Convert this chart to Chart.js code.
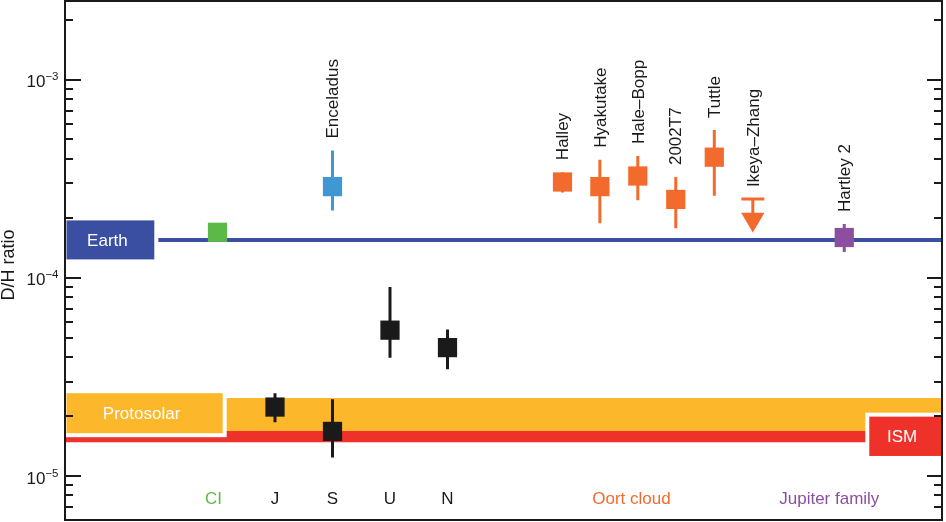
<!DOCTYPE html>
<html><head><meta charset="utf-8">
<script src="https://cdn.jsdelivr.net/npm/chart.js@4/dist/chart.umd.min.js"></script>
<style>html,body{margin:0;padding:0;background:#fff;}canvas{display:block;}</style>
</head><body>
<canvas id="c" width="946" height="522"></canvas>
<script>
// ---------------- data ----------------
const xRange = [-1.652, 13.6];
const yRange = [6.0e-6, 2.5e-3];
const yMajorExponents = [-5, -4, -3];
const yTitle = 'D/H ratio';

const earthDH = 1.556e-4;
const protosolarRange = [1.69e-5, 2.48e-5];
const ismRange = [1.48e-5, 1.69e-5];

const ciX = [1];
const ciDH = [1.70e-4];

const planetNames = ['J', 'S', 'U', 'N'];
const planetX = [2, 3, 4, 5];
const planetDH = [2.23e-5, 1.68e-5, 5.45e-5, 4.45e-5];
const planetErrHi = [2.62e-5, 2.44e-5, 9.0e-5, 5.5e-5];
const planetErrLo = [1.87e-5, 1.24e-5, 3.95e-5, 3.46e-5];

const enceladusNames = ['Enceladus'];
const enceladusX = [3];
const enceladusDH = [2.89e-4];
const enceladusErrHi = [4.4e-4];
const enceladusErrLo = [2.19e-4];

const oortNames = ['Halley', 'Hyakutake', 'Hale–Bopp', '2002T7', 'Tuttle'];
const oortX = [7.0, 7.65, 8.31, 8.97, 9.64];
const oortDH = [3.05e-4, 2.89e-4, 3.27e-4, 2.49e-4, 4.07e-4];
const oortErrHi = [3.42e-4, 3.95e-4, 4.13e-4, 3.23e-4, 5.58e-4];
const oortErrLo = [2.70e-4, 1.89e-4, 2.47e-4, 1.78e-4, 2.60e-4];

const limitNames = ['Ikeya–Zhang'];
const limitX = [10.31];
const limitDH = [2.5e-4];

const jfcNames = ['Hartley 2'];
const jfcX = [11.9];
const jfcDH = [1.60e-4];
const jfcErrHi = [1.87e-4];
const jfcErrLo = [1.35e-4];

const groupLabels = ['CI', 'J', 'S', 'U', 'N', 'Oort cloud', 'Jupiter family'];
const groupLabelX = [0.93, 2, 3, 4, 5, 8.2, 11.64];

const boxLabels = ['Earth', 'Protosolar', 'ISM'];

// ---------------- styles ----------------
const C = {
  earth: '#3b4fa2', ci: '#5db947', encel: '#3f97d4', black: '#1a1a1a',
  oort: '#f26a2c', jfc: '#8c4f9f', proto: '#fcb82a', ism: '#ee3129', text: '#1a1a1a'
};
const groupLabelColors = [C.ci, C.text, C.text, C.text, C.text, C.oort, C.jfc];
const FONT = '"Liberation Sans", Arial, Helvetica, sans-serif';

function pts(xs, ys) { return xs.map((x, i) => ({x: x, y: ys[i]})); }
function errSegs(xs, hi, lo) {
  const out = [];
  xs.forEach((x, i) => { out.push({x: x, y: hi[i]}, {x: x, y: lo[i]}, {x: x, y: null}); });
  return out;
}
function hline(y) { return [{x: xRange[0], y: y}, {x: xRange[1], y: y}]; }

const markerR = 13.6;
function markers(data, color) {
  return {data: data, showLine: false, pointStyle: 'rect', pointRadius: markerR, pointHoverRadius: markerR,
    pointBackgroundColor: color, pointBorderWidth: 0, borderColor: color, backgroundColor: color, order: 1};
}
function errLine(data, color) {
  return {data: data, borderColor: color, borderWidth: 3, pointRadius: 0, fill: false, spanGaps: false, order: 5};
}

const datasets = [
  {data: hline(protosolarRange[1]), fill: '+1', backgroundColor: C.proto, borderWidth: 0, pointRadius: 0, order: 20},
  {data: hline(protosolarRange[0]), fill: false, borderWidth: 0, pointRadius: 0, order: 19},
  {data: hline(ismRange[1]), fill: '+1', backgroundColor: C.ism, borderWidth: 0, pointRadius: 0, order: 18},
  {data: hline(ismRange[0]), fill: false, borderWidth: 0, pointRadius: 0, order: 17},
  {data: hline(earthDH), fill: false, borderColor: C.earth, borderWidth: 4, pointRadius: 0, order: 16},
  errLine(errSegs(planetX, planetErrHi, planetErrLo), C.black),
  errLine(errSegs(enceladusX, enceladusErrHi, enceladusErrLo), C.encel),
  errLine(errSegs(oortX, oortErrHi, oortErrLo), C.oort),
  errLine(errSegs(jfcX, jfcErrHi, jfcErrLo), C.jfc),
  markers(pts(ciX, ciDH), C.ci),
  markers(pts(planetX, planetDH), C.black),
  markers(pts(enceladusX, enceladusDH), C.encel),
  markers(pts(oortX, oortDH), C.oort),
  markers(pts(jfcX, jfcDH), C.jfc)
];

const decor = {
  id: 'decor',
  afterDatasetsDraw(chart) {
    const ctx = chart.ctx, a = chart.chartArea;
    const xs = chart.scales.x, ys = chart.scales.y;
    const px = v => xs.getPixelForValue(v), py = v => ys.getPixelForValue(v);
    ctx.save();

    // labelled boxes with white borders
    function box(x0, x1, yc, h, color, label) {
      const y0 = yc - h / 2;
      ctx.fillStyle = '#fff';
      ctx.fillRect(x0 - 4, y0 - 4, x1 - x0 + 8, h + 8);
      ctx.fillStyle = color;
      ctx.fillRect(x0, y0, x1 - x0, h);
      ctx.fillStyle = '#fff';
      ctx.font = '17px ' + FONT;
      ctx.textAlign = 'center'; ctx.textBaseline = 'middle';
      ctx.fillText(label, (x0 + x1) / 2 - 3, yc + 1);
    }
    box(a.left + 1.5, a.left + 89.3, py(earthDH), 39, C.earth, boxLabels[0]);
    const pc = (py(protosolarRange[0]) + py(protosolarRange[1])) / 2;
    box(a.left + 1.5, a.left + 157.7, pc - 1.2, 40, C.proto, boxLabels[1]);
    const ic = (py(ismRange[0]) + py(ismRange[1])) / 2;
    box(a.right - 72.7, a.right - 1, ic - 0.3, 39.3, C.ism, boxLabels[2]);

    // upper limit (Ikeya-Zhang)
    limitX.forEach((x, i) => {
      const cx = px(x), cy = py(limitDH[i]);
      ctx.strokeStyle = C.oort; ctx.lineWidth = 3;
      ctx.beginPath();
      ctx.moveTo(cx - 11.5, cy); ctx.lineTo(cx + 11.5, cy);
      ctx.moveTo(cx, cy); ctx.lineTo(cx, cy + 15);
      ctx.stroke();
      ctx.fillStyle = C.oort;
      ctx.beginPath();
      ctx.moveTo(cx - 11.7, cy + 13.7); ctx.lineTo(cx + 11.7, cy + 13.7); ctx.lineTo(cx, cy + 33.3);
      ctx.closePath(); ctx.fill();
    });

    // vertical object labels
    ctx.fillStyle = C.text;
    ctx.font = '17px ' + FONT;
    function vlabel(name, x, topPx) {
      ctx.save();
      ctx.translate(px(x) + 1, topPx - 12);
      ctx.rotate(-Math.PI / 2);
      ctx.textAlign = 'left'; ctx.textBaseline = 'middle';
      ctx.fillText(name, 0, 0);
      ctx.restore();
    }
    enceladusNames.forEach((n, i) => vlabel(n, enceladusX[i], py(enceladusErrHi[i])));
    oortNames.forEach((n, i) => vlabel(n, oortX[i], py(oortErrHi[i])));
    limitNames.forEach((n, i) => vlabel(n, limitX[i], py(limitDH[i])));
    jfcNames.forEach((n, i) => vlabel(n, jfcX[i], py(jfcErrHi[i])));

    // group labels along the bottom
    ctx.textAlign = 'center'; ctx.textBaseline = 'alphabetic';
    groupLabels.forEach((g, i) => {
      ctx.fillStyle = groupLabelColors[i];
      ctx.fillText(g, px(groupLabelX[i]), a.bottom - 16);
    });

    // log ticks on both sides, pointing inward
    ctx.strokeStyle = C.black; ctx.lineWidth = 2;
    ctx.beginPath();
    for (let e = -6; e <= -2; e++) {
      for (let m = 1; m <= 9; m++) {
        const v = m * Math.pow(10, e);
        if (v < yRange[0] || v > yRange[1]) continue;
        const y = Math.round(py(v));
        const major = m === 1;
        ctx.moveTo(a.left, y); ctx.lineTo(a.left + (major ? 16 : 8), y);
        ctx.moveTo(a.right, y); ctx.lineTo(a.right - (major ? 15 : 8), y);
      }
    }
    ctx.stroke();

    // frame
    ctx.strokeRect(a.left, a.top, a.right - a.left, a.bottom - a.top);

    // tick labels 10^e
    ctx.fillStyle = C.text;
    yMajorExponents.forEach(e => {
      const y = py(Math.pow(10, e));
      const expTxt = '−' + Math.abs(e);
      ctx.font = '11.5px ' + FONT;
      const ew = ctx.measureText(expTxt).width;
      ctx.textAlign = 'left'; ctx.textBaseline = 'alphabetic';
      ctx.fillText(expTxt, 58.5 - ew, y + 0.5);
      ctx.font = '17px ' + FONT;
      ctx.textAlign = 'right';
      ctx.fillText('10', 58.5 - ew, y + 7.5);
    });

    // y title
    ctx.save();
    ctx.translate(9, 265);
    ctx.rotate(-Math.PI / 2);
    ctx.font = '18px ' + FONT;
    ctx.textAlign = 'center'; ctx.textBaseline = 'middle';
    ctx.fillText(yTitle, 0, 0);
    ctx.restore();

    ctx.restore();
  }
};

new Chart(document.getElementById('c'), {
  type: 'line',
  data: {datasets: datasets},
  options: {
    responsive: false, animation: false, devicePixelRatio: 1, events: [],
    layout: {autoPadding: false, padding: {left: 65, right: 4, top: 1, bottom: 2}},
    plugins: {legend: {display: false}, tooltip: {enabled: false}},
    scales: {
      x: {type: 'linear', min: xRange[0], max: xRange[1], display: false},
      y: {type: 'logarithmic', min: yRange[0], max: yRange[1], display: false}
    }
  },
  plugins: [decor]
});
</script>
</body></html>
